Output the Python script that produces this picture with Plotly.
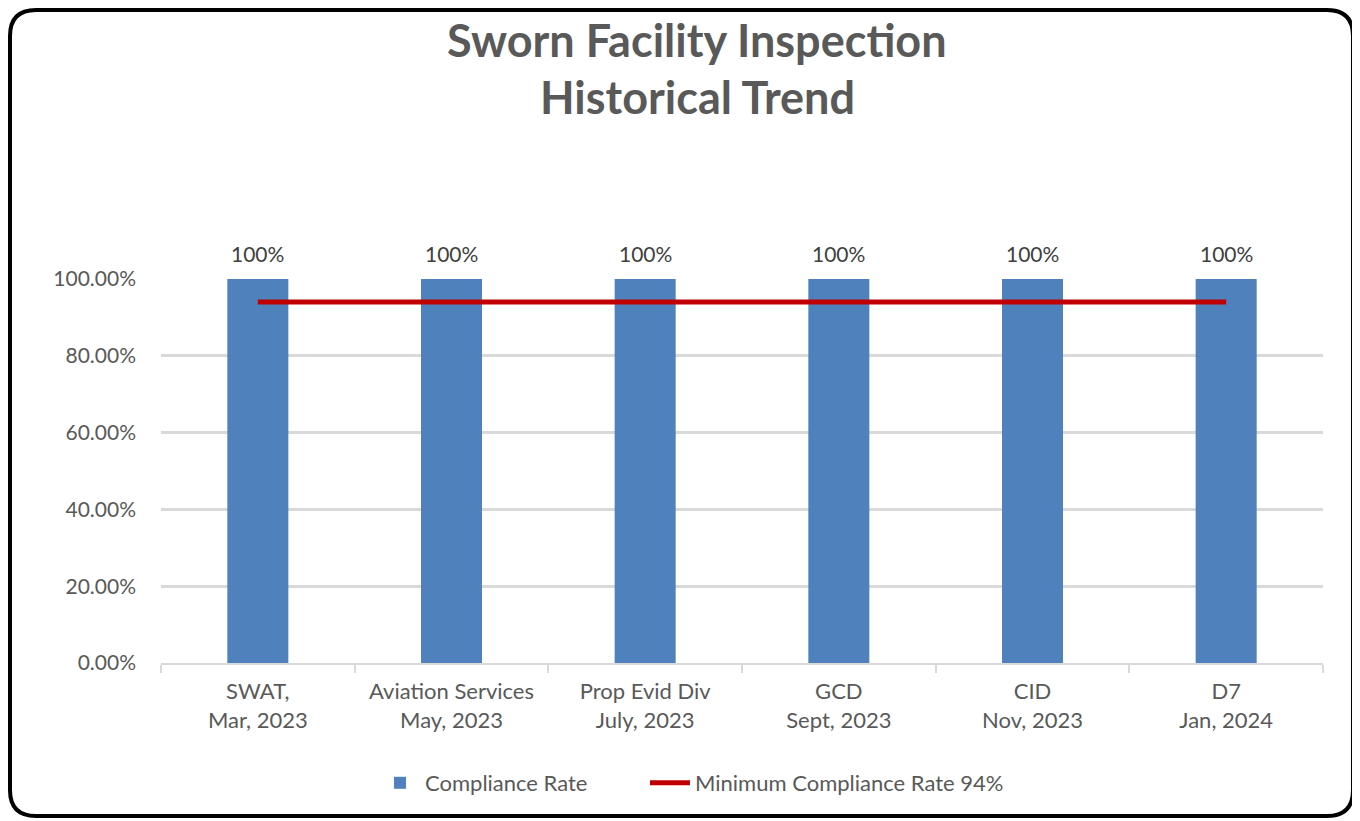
import plotly.graph_objects as go

categories = ["SWAT,<br>Mar, 2023", "Aviation Services<br>May, 2023", "Prop Evid Div<br>July, 2023",
              "GCD<br>Sept, 2023", "CID<br>Nov, 2023", "D7<br>Jan, 2024"]
compliance = [1.0, 1.0, 1.0, 1.0, 1.0, 1.0]
minimum = [0.94, 0.94, 0.94, 0.94, 0.94, 0.94]
bar_labels = ["100%", "100%", "100%", "100%", "100%", "100%"]

OFF = 8  # page body margin
W, H = 1360 - OFF, 821 - OFF
# target plot area in screenshot pixels
PL, PR, PT, PB = 161, 1323, 279, 663
ML, MT = PL - OFF, PT - OFF
MR, MB = W - (PR - OFF), H - (PB - OFF)
PW, PH = PR - PL, PB - PT
FONT = "Lato"
GREY = "#595959"

def px(x):
    return (x - PL) / PW

def py(y):
    return (PB - y) / PH

fig = go.Figure()
fig.add_trace(go.Bar(
    x=categories, y=compliance, name="Compliance Rate",
    marker=dict(color="#4F81BD", line=dict(width=0)), legend="legend",
))
fig.add_trace(go.Scatter(
    x=categories, y=minimum, name="Minimum Compliance Rate 94%", mode="lines",
    line=dict(color="#C00000", width=5), legend="legend2",
))

for c, v, t in zip(categories, compliance, bar_labels):
    fig.add_annotation(x=c, y=v, text=t, showarrow=False, yanchor="middle", yshift=26,
                       font=dict(family=FONT, size=21, color="#404040"))

fig.add_annotation(text="<b>Sworn Facility Inspection</b>", x=px(697), y=py(40), xref="paper", yref="paper",
                   showarrow=False, xanchor="center", yanchor="middle",
                   font=dict(family=FONT, size=45, color=GREY))
fig.add_annotation(text="<b>Historical Trend</b>", x=px(697), y=py(97), xref="paper", yref="paper",
                   showarrow=False, xanchor="center", yanchor="middle",
                   font=dict(family=FONT, size=45, color=GREY))

# rounded border
x0, x1, y0, y1, r = 10, 1353, 10, 816, 26
rx, ry = r / PW, r / PH
path = (f"M {px(x0)+rx},{py(y0)} L {px(x1)-rx},{py(y0)} Q {px(x1)},{py(y0)} {px(x1)},{py(y0)-ry} "
        f"L {px(x1)},{py(y1)+ry} Q {px(x1)},{py(y1)} {px(x1)-rx},{py(y1)} "
        f"L {px(x0)+rx},{py(y1)} Q {px(x0)},{py(y1)} {px(x0)},{py(y1)+ry} "
        f"L {px(x0)},{py(y0)-ry} Q {px(x0)},{py(y0)} {px(x0)+rx},{py(y0)} Z")
fig.add_shape(type="path", path=path, xref="paper", yref="paper",
              line=dict(color="black", width=4), layer="above")

leg_common = dict(orientation="h", xanchor="left", y=py(783), yanchor="middle",
                  font=dict(family=FONT, size=22, color=GREY), itemwidth=40,
                  bgcolor="rgba(0,0,0,0)")

fig.update_layout(
    width=W, height=H,
    margin=dict(l=ML, r=MR, t=MT, b=MB),
    paper_bgcolor="white", plot_bgcolor="white",
    font=dict(family=FONT, size=21, color=GREY),
    bargap=0.685,
    showlegend=True,
    legend=dict(x=px(375), **leg_common),
    legend2=dict(x=px(645), **leg_common),
    xaxis=dict(type="category", showgrid=False, showline=True, linecolor="#D9D9D9", linewidth=2,
               ticks="outside", tickson="boundaries", ticklen=8, tickcolor="#D9D9D9", tickwidth=2,
               ticklabelstandoff=8,
               tickfont=dict(family=FONT, size=22, color=GREY)),
    yaxis=dict(range=[0, 1], tickvals=[0, 0.2, 0.4, 0.6, 0.8, 1.0], tickformat=".2%",
               showgrid=True, gridcolor="#D9D9D9", gridwidth=3, zeroline=False,
               showline=False, ticks="", ticklabelstandoff=24,
               tickfont=dict(family=FONT, size=21, color=GREY)),
)

fig.write_html("out.html")
